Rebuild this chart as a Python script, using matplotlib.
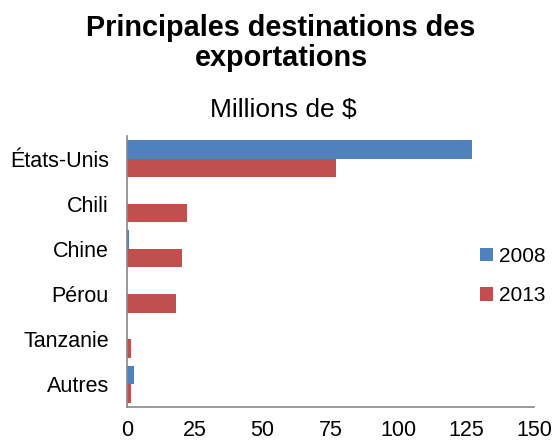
import numpy as np
import matplotlib.pyplot as plt

plt.rcParams['font.family'] = ['Liberation Sans', 'DejaVu Sans']

categories = ['États-Unis', 'Chili', 'Chine', 'Pérou', 'Tanzanie', 'Autres']
val_2008 = [127.3, 0, 0.7, 0, 0, 2.7]
val_2013 = [76.9, 22.1, 20.2, 18.2, 1.3, 1.5]
ticks = [0, 25, 50, 75, 100, 125, 150]

W, H = 553, 441
fig = plt.figure(figsize=(W / 100, H / 100), dpi=100)
ax = fig.add_axes([127 / W, 1 - 407 / H, (534 - 127) / W, (407 - 136) / H])

y = np.arange(len(categories))
h = 0.41
ax.barh(y - h / 2, val_2008, height=h, color='#4f81bd', label='2008')
ax.barh(y + h / 2, val_2013, height=h, color='#c0504d', label='2013')

ax.set_ylim(len(categories) - 0.5, -0.5)
ax.set_xlim(0, 150)
ax.set_yticks(y)
ax.set_yticklabels(categories, fontsize=15.5)
ax.set_xticks(ticks)
ax.set_xticklabels([str(t) for t in ticks], fontsize=15.5)
ax.tick_params(axis='x', length=0, pad=9)
ax.tick_params(axis='y', length=0, pad=13)

for s in ['top', 'right']:
    ax.spines[s].set_visible(False)
for s in ['left', 'bottom']:
    ax.spines[s].set_color('#888888')
    ax.spines[s].set_linewidth(1.2)

# titles
cx = 281 / W
fig.text(cx, 1 - 36 / H, 'Principales destinations des', ha='center', va='baseline',
         fontsize=20.8, fontweight='bold')
fig.text(cx, 1 - 66 / H, 'exportations', ha='center', va='baseline',
         fontsize=20.8, fontweight='bold')
fig.text(283 / W, 1 - 117 / H, 'Millions de $', ha='center', va='baseline', fontsize=19)

ax.legend(loc='center left', bbox_to_anchor=(480 / W, 1 - 276 / H),
          bbox_transform=fig.transFigure, frameon=False, fontsize=15,
          handlelength=0.6, handleheight=0.6, handletextpad=0.3,
          labelspacing=1.0, borderpad=0, borderaxespad=0)

fig.savefig('out.png', dpi=100)
